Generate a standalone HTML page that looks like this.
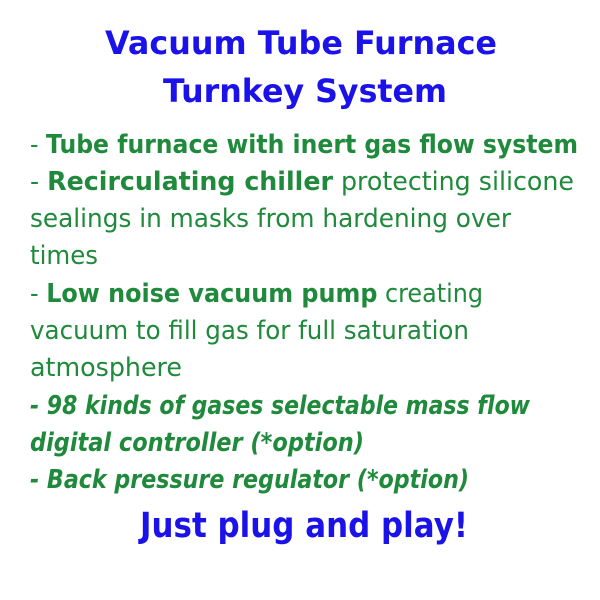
<!DOCTYPE html>
<html><head><meta charset="utf-8"><style>
html,body{margin:0;padding:0;background:#fff;width:600px;height:600px;overflow:hidden}
svg{display:block}
text{font-family:"DejaVu Sans","Liberation Sans",sans-serif}
.t{fill:#1a12e8;font-weight:bold}
.g{fill:#1f8a3b;font-size:26px}
.b{font-weight:bold}
.i{font-weight:bold;font-style:italic}
</style></head><body>
<svg width="600" height="600" viewBox="0 0 600 600" xmlns="http://www.w3.org/2000/svg">
<text class="t" x="105" y="54" font-size="32" textLength="392" lengthAdjust="spacingAndGlyphs">Vacuum Tube Furnace</text>
<text class="t" x="163" y="102" font-size="32" textLength="284" lengthAdjust="spacingAndGlyphs">Turnkey System</text>

<text class="g" x="30" y="153" textLength="548" lengthAdjust="spacingAndGlyphs">- <tspan class="b">Tube furnace with inert gas flow system</tspan></text>
<text class="g" x="30" y="190" textLength="544" lengthAdjust="spacingAndGlyphs">- <tspan class="b">Recirculating chiller</tspan> protecting silicone</text>
<text class="g" x="30" y="227" textLength="481" lengthAdjust="spacingAndGlyphs">sealings in masks from hardening over</text>
<text class="g" x="30" y="264" textLength="68" lengthAdjust="spacingAndGlyphs">times</text>
<text class="g" x="30" y="302" textLength="453" lengthAdjust="spacingAndGlyphs">- <tspan class="b">Low noise vacuum pump</tspan> creating</text>
<text class="g" x="30" y="339" textLength="439" lengthAdjust="spacingAndGlyphs">vacuum to fill gas for full saturation</text>
<text class="g" x="30" y="376" textLength="152" lengthAdjust="spacingAndGlyphs">atmosphere</text>
<text class="g i" x="30" y="414" textLength="500" lengthAdjust="spacingAndGlyphs">- 98 kinds of gases selectable mass flow</text>
<text class="g i" x="30" y="451" textLength="334" lengthAdjust="spacingAndGlyphs">digital controller (*option)</text>
<text class="g i" x="30" y="488" textLength="439" lengthAdjust="spacingAndGlyphs">- Back pressure regulator (*option)</text>

<text class="t" x="140" y="537" font-size="35" textLength="328" lengthAdjust="spacingAndGlyphs">Just plug and play!</text>
</svg>
</body></html>
